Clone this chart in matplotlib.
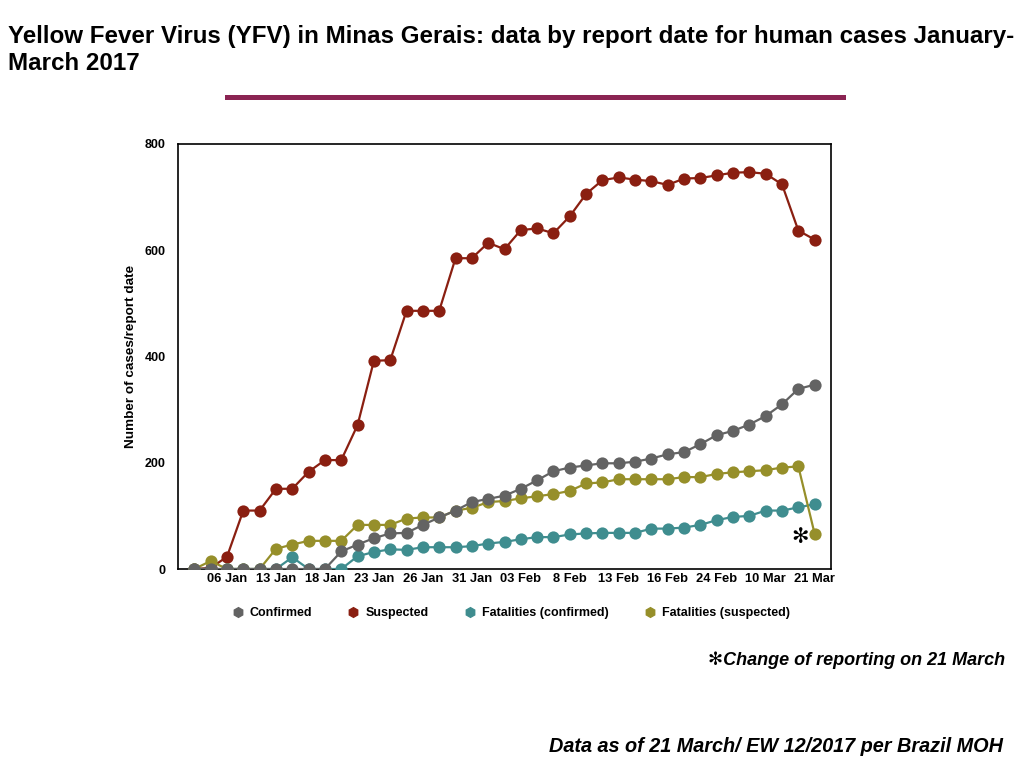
import numpy as np
import matplotlib
matplotlib.use("Agg")
import matplotlib.pyplot as plt
from matplotlib.lines import Line2D

plt.rcParams['font.family'] = ['Liberation Sans', 'DejaVu Sans']

# values per report (39 reports)
confirmed = [0, 0, 0, 0, 0, 0, 0, 0, 0, 33, 46, 58, 67, 68, 83, 97, 110, 126, 132, 138,
             151, 167, 184, 191, 195, 199, 199, 202, 208, 216, 220, 235, 252, 260, 272,
             288, 310, 339, 347]
suspected = [0, 2, 23, 110, 110, 151, 151, 183, 205, 205, 271, 392, 393, 486, 486, 486,
             585, 585, 614, 602, 638, 641, 632, 664, 706, 732, 737, 733, 730, 723, 735,
             736, 741, 746, 747, 744, 724, 637, 620]
fatal_conf = [0, 0, 0, 0, 0, 0, 22, 0, 0, 0, 24, 32, 37, 36, 41, 41, 41, 43, 48, 51,
              56, 60, 60, 65, 67, 68, 68, 68, 76, 76, 78, 83, 92, 98, 100, 110, 110, 116, 122]
fatal_susp = [0, 15, 0, 0, 0, 38, 46, 53, 53, 53, 83, 83, 83, 95, 97, 97, 110, 115, 126, 128,
              133, 137, 141, 147, 161, 163, 169, 169, 169, 169, 173, 173, 179, 182, 184,
              186, 191, 193, 66]
tick_pos = [2, 5, 8, 11, 14, 17, 20, 23, 26, 29, 32, 35, 38]
tick_labels = ['06 Jan', '13 Jan', '18 Jan', '23 Jan', '26 Jan', '31 Jan', '03 Feb',
               '8 Feb', '13 Feb', '16 Feb', '24 Feb', '10 Mar', '21 Mar']

c_conf = '#636363'
c_susp = '#8a1f11'
c_fconf = '#3f8d8f'
c_fsusp = '#968f2a'

fig = plt.figure(figsize=(10.24, 7.68), dpi=100)
ax = fig.add_axes([178/1024, 1-569/768, 653/1024, 425/768])
x = np.arange(len(confirmed))

kw = dict(marker='o', markersize=8.8, linewidth=1.6, markeredgewidth=0)
ax.plot(x, suspected, color=c_susp, zorder=2, **kw)
ax.plot(x, fatal_conf, color=c_fconf, zorder=3, **kw)
ax.plot(x, fatal_susp, color=c_fsusp, zorder=4, **kw)
ax.plot(x, confirmed, color=c_conf, zorder=5, **kw)

ax.set_xlim(-1, 39)
ax.set_ylim(0, 800)
ax.set_yticks([0, 200, 400, 600, 800])
ax.set_xticks(tick_pos)
ax.set_xticklabels(tick_labels)
ax.tick_params(axis='x', length=0, labelsize=9.3, pad=3)
ax.tick_params(axis='y', length=0, labelsize=9, pad=9)
for lab in ax.get_xticklabels() + ax.get_yticklabels():
    lab.set_fontweight('bold')
ax.set_ylabel('Number of cases/report date', fontsize=9.7, fontweight='bold')
ax.yaxis.set_label_coords(-47/653, 0.5)
ax.yaxis.label.set_verticalalignment('center')
for s in ax.spines.values():
    s.set_linewidth(1.2)

ax.text(37.1, 60, '✻', fontsize=15, ha='center', va='center', color='black')

handles = [Line2D([], [], color=c, marker='h', linestyle='none', markersize=7)
           for c in (c_conf, c_susp, c_fconf, c_fsusp)]
fig.legend(handles, ['Confirmed', 'Suspected', 'Fatalities (confirmed)', 'Fatalities (suspected)'],
           loc='center', bbox_to_anchor=(510/1024, 1-613/768), ncol=4, frameon=False,
           prop={'weight': 'bold', 'size': 9}, handletextpad=0.36, columnspacing=2.7,
           handlelength=1.2)

fig.text(8/1024, 1-43/768, 'Yellow Fever Virus (YFV) in Minas Gerais: data by report date for human cases January-',
         fontsize=17.4, fontweight='bold', ha='left', va='baseline')
fig.text(8/1024, 1-70/768, 'March 2017',
         fontsize=17.4, fontweight='bold', ha='left', va='baseline')
fig.add_artist(Line2D([227/1024, 843/1024], [1-97/768, 1-97/768], color='#8b2453', linewidth=3.6))

fig.text(1005/1024, 1-660/768, '✻Change of reporting on 21 March', fontsize=13,
         fontweight='bold', style='italic', ha='right', va='center')
fig.text(1003/1024, 1-746/768, 'Data as of 21 March/ EW 12/2017 per Brazil MOH', fontsize=14.3,
         fontweight='bold', style='italic', ha='right', va='center')

fig.savefig('out.png', dpi=100)
